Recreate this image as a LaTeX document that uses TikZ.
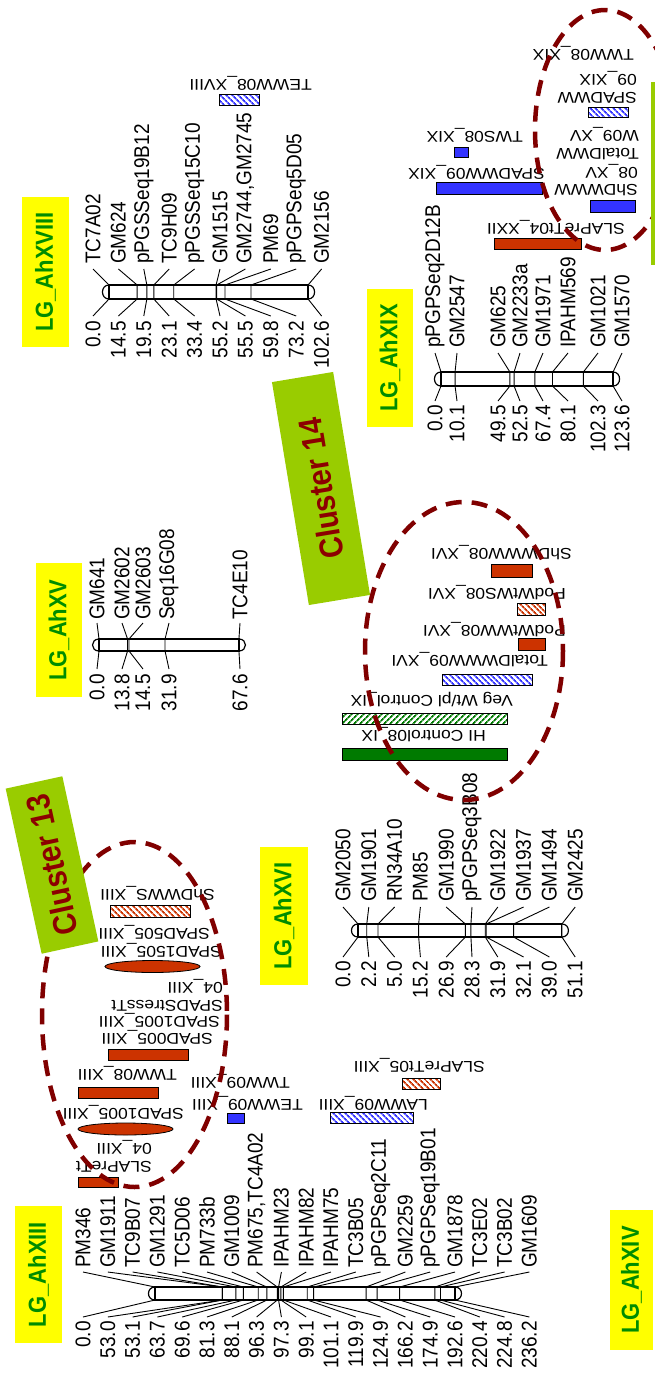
\documentclass[tikz,border=0pt]{standalone}
\usepackage{fontspec}
\setmainfont{Liberation Sans}
\newfontfamily\vfont[FakeStretch=0.893]{Liberation Sans}
\newfontfamily\hfont[FakeStretch=1.12]{Liberation Sans}
\usetikzlibrary{patterns.meta}
\definecolor{qred}{RGB}{204,51,0}
\definecolor{qblue}{RGB}{51,51,255}
\definecolor{qgreen}{RGB}{0,122,0}
\definecolor{lgyellow}{RGB}{255,255,0}
\definecolor{lggreen}{RGB}{0,140,0}
\definecolor{clgreen}{RGB}{153,204,0}
\definecolor{clred}{RGB}{140,0,0}
\definecolor{ringred}{RGB}{128,0,0}
\tikzset{
  mname/.style={rotate=90, anchor=west, inner sep=0pt, font=\vfont\fontsize{21.3}{24}\selectfont},
  mnum/.style={rotate=90, anchor=east, inner sep=0pt, font=\vfont\fontsize{21.3}{24}\selectfont},
  conn/.style={line width=0.9pt},
  chrom/.style={line width=1.2pt},
  qlab/.style={rotate=180, anchor=west, inner sep=0pt, align=left, font=\hfont\fontsize{15.6}{17.5}\selectfont},
  qbar/.style={draw=black, line width=0.8pt},
  solidred/.style={qbar, fill=qred},
  solidblue/.style={qbar, fill=qblue},
  solidgreen/.style={qbar, fill=qgreen},
  hatchred/.style={qbar, pattern={Lines[angle=-45,distance=4pt,line width=1.8pt]}, pattern color=qred},
  hatchblue/.style={qbar, pattern={Lines[angle=-45,distance=4pt,line width=1.8pt]}, pattern color=qblue},
  hatchgreen/.style={qbar, pattern={Lines[angle=45,distance=4pt,line width=1.8pt]}, pattern color=qgreen},
  ring/.style={draw=ringred, line width=4.5pt, dash pattern=on 16pt off 10pt},
  lgtitle/.style={rotate=90, fill=lgyellow, inner sep=0pt, text=lggreen, font=\vfont\bfseries\fontsize{24.6}{26}\selectfont},
  cluster/.style={fill=clgreen, inner sep=0pt, text=clred, font=\vfont\bfseries\fontsize{33}{33}\selectfont},
}
% one linkage group: bar, end caps, ticks, connectors, marker names and positions
\newcommand\drawchromosome[1]{%
  \pgfmathsetmacro\cxe{\cx+\ck*\cend}
  \draw[chrom, fill=white] (\cx,\cbt) rectangle (\cxe,\cbb);
  \draw[chrom] (\cx,\cbt) .. controls (\cx-8.7,\cbt) and (\cx-8.7,\cbb) .. (\cx,\cbb);
  \draw[chrom] (\cxe,\cbt) .. controls (\cxe+8.7,\cbt) and (\cxe+8.7,\cbb) .. (\cxe,\cbb);
  \foreach \lx/\p/\nm [count=\i] in {#1} {
    \pgfmathsetmacro\bx{\cx+\ck*\p}
    \coordinate (\cid-bt\i) at (\bx,\cbt);
    \coordinate (\cid-bb\i) at (\bx,\cbb);
    \coordinate (\cid-lt\i) at (\lx,\clt);
    \coordinate (\cid-lb\i) at (\lx,\clb);
    \node[mname] (\cid-n\i) at (\lx,\cnm) {\nm};
    \node[mnum] (\cid-v\i) at (\lx,\cnu) {\p};
    \draw[conn] (\cid-lt\i) -- (\cid-bt\i) -- (\cid-bb\i) -- (\cid-lb\i);
  }
}
\begin{document}
\begin{tikzpicture}[x=1pt,y=-1pt]
\useasboundingbox (0,0) rectangle (654,1374);

% ---------------- LG_AhXIII ----------------
\def\cid{c13}\def\cx{155}\def\ck{1.27}\def\cend{236.2}
\def\cbt{1287}\def\cbb{1300}\def\cnm{1268}\def\clt{1272}\def\clb{1317}\def\cnu{1321}
\drawchromosome{83/0.0/PM346, 107.8/53.0/GM1911, 132.6/53.1/TC9B07, 157.4/63.7/GM1291,
  182.2/69.6/TC5D06, 207/81.3/PM733b, 231.8/88.1/GM1009, 256.6/96.3/{PM675,TC4A02},
  281.4/97.3/IPAHM23, 306.2/99.1/IPAHM82, 331/101.1/IPAHM75, 355.8/119.9/TC3B05,
  380.6/124.9/pPGPSeq2C11, 405.4/166.2/GM2259, 430.2/174.9/pPGPSeq19B01,
  455/192.6/GM1878, 479.8/220.4/TC3E02, 504.6/224.8/TC3B02, 529.4/236.2/GM1609}

% ---------------- LG_AhXV ----------------
\def\cid{c15}\def\cx{99}\def\ck{2.07}\def\cend{67.6}
\def\cbt{639}\def\cbb{651}\def\cnm{620}\def\clt{623}\def\clb{669}\def\cnu{674}
\drawchromosome{97/0.0/GM641, 122/13.8/GM2602, 143/14.5/GM2603, 169/31.9/Seq16G08, 240/67.6/TC4E10}

% ---------------- LG_AhXVI ----------------
\def\cid{c16}\def\cx{358}\def\ck{3.99}\def\cend{51.1}
\def\cbt{924}\def\cbb{937}\def\cnm{902}\def\clt{907}\def\clb{957}\def\cnu{961}
\drawchromosome{343/0.0/GM2050, 368.8/2.2/GM1901, 394.6/5.0/RN34A10, 420.4/15.2/PM85,
  446.2/26.9/GM1990, 472/28.3/pPGPSeq3B08, 497.8/31.9/GM1922, 523.6/32.1/GM1937,
  549.4/39.0/GM1494, 575.2/51.1/GM2425}

% ---------------- LG_AhXVIII ----------------
\def\cid{c18}\def\cx{109}\def\ck{1.94}\def\cend{102.6}
\def\cbt{285}\def\cbb{299}\def\cnm{264}\def\clt{269}\def\clb{316}\def\cnu{321}
\drawchromosome{93/0.0/TC7A02, 118.4/14.5/GM624, 143.8/19.5/pPGSSeq19B12, 169.2/23.1/TC9H09,
  194.6/33.4/pPGSSeq15C10, 220/55.2/GM1515, 245.4/55.5/{GM2744,GM2745}, 270.8/59.8/PM69,
  296.2/73.2/pPGPSeq5D05, 321.6/102.6/GM2156}

% ---------------- LG_AhXIX ----------------
\def\cid{c19}\def\cx{441}\def\ck{1.392}\def\cend{123.6}
\def\cbt{372}\def\cbb{386}\def\cnm{348}\def\clt{353}\def\clb{401}\def\cnu{405}
\drawchromosome{435/0.0/pPGPSeq2D12B, 457/10.1/GM2547, 498/49.5/GM625, 520/52.5/GM2233a,
  543/67.4/GM1971, 568/80.1/IPAHM569, 598/102.3/GM1021, 622/123.6/GM1570}

% ---------------- QTL intervals on LG_AhXIII ----------------
\draw[solidred] (78,1177) rectangle (118,1187);
\node[qlab] (q1) at (152,1156.5) {SLAPreTt\\04\_XIII};
\draw[solidred] (125.5,1129) ellipse [x radius=47.5, y radius=6];
\node[qlab] (q2) at (184,1112) {SPAD1005\_XIII};
\draw[solidred] (78,1087) rectangle (158,1098);
\node[qlab] (q3) at (177,1073) {TWW08\_XIII};
\draw[solidred] (108,1049) rectangle (188,1060);
\node[qlab] (q4) at (213,1037) {SPAD005\_XIII};
\node[qlab] (q5) at (220,1020) {SPAD1005\_XIII};
\node[qlab] (q6) at (223,995.5) {SPADStressTt\\04\_XIII};
\draw[solidred] (152.5,966.5) ellipse [x radius=47.5, y radius=6];
\node[qlab] (q7) at (222,950) {SPAD1505\_XIII};
\node[qlab] (q8) at (210,932) {SPAD505\_XIII};
\draw[hatchred] (110,905) rectangle (190,917);
\node[qlab] (q9) at (215,894) {ShDWWS\_XIII};

\node[qlab] (q10) at (290,1081) {TWW09\_XIII};
\node[qlab] (q11) at (303,1103) {TEWW09\_XIII};
\draw[solidblue] (227,1113) rectangle (244,1123);
\node[qlab] (q12) at (428,1103) {LAWW09\_XIII};
\draw[hatchblue] (330,1112) rectangle (413,1123);
\node[qlab] (q13) at (485,1065) {SLAPreTt05\_XIII};
\draw[hatchred] (402,1078) rectangle (440,1089);

% ---------------- QTL intervals on LG_AhXVI ----------------
\node[qlab] (q14) at (572,553) {ShDWWW08\_XVI};
\draw[solidred] (491,564) rectangle (532,577);
\node[qlab] (q15) at (566,593) {PodWtWS08\_XVI};
\draw[hatchred] (517,603) rectangle (545,615);
\node[qlab] (q16) at (566,630) {PodWtWW08\_XVI};
\draw[solidred] (518,638) rectangle (545,650);
\node[qlab] (q17) at (548,660) {TotalDWWW09\_XVI};
\draw[hatchblue] (442,674) rectangle (532,685);
\node[qlab] (q18) at (513,700) {Veg Wt/pl Control\_IX};
\draw[hatchgreen] (342,713) rectangle (507,724);
\node[qlab] (q19) at (486,735) {HI Control08\_IX};
\draw[solidgreen] (342,748) rectangle (507,760);

% ---------------- QTL intervals on LG_AhXVIII and LG_AhXIX ----------------
\node[qlab] (q20) at (312,83) {TEWW08\_XVIII};
\draw[hatchblue] (219,94) rectangle (259,105);

\node[qlab] (q21) at (634,53) {TWW08\_XIX};
\node[qlab] (q22) at (637,87.5) {SPADWW\\09\_XIX};
\draw[hatchblue] (588,107) rectangle (628,117);
\node[qlab] (q23) at (639,143.5) {TotalDWW\\W09\_XV};
\node[qlab] (q24) at (638,180) {ShDWWW\\08\_XV};
\draw[solidblue] (590,200) rectangle (635,212);
\node[qlab] (q25) at (523,135) {TWS08\_XIX};
\draw[solidblue] (454,147) rectangle (468,157);
\node[qlab] (q26) at (545,172) {SPADWW09\_XIX};
\draw[solidblue] (436,182) rectangle (542,194);
\node[qlab] (q27) at (625,227) {SLAPreTt04\_XXII};
\draw[solidred] (494,238) rectangle (581,249);

% ---------------- cluster outlines ----------------
\draw[ring] (134.5,1014.5) ellipse [x radius=92.5, y radius=172.5];
\draw[ring] (464,651) ellipse [x radius=99, y radius=149];
\draw[ring] (605,130) ellipse [x radius=70, y radius=120];

% ---------------- cluster tags ----------------
\node[cluster, rotate=102.3, minimum width=169, minimum height=58] (cl13) at (52,865) {Cluster 13};
\node[cluster, rotate=99.4, minimum width=226, minimum height=62] (cl14) at (321,488.5) {Cluster 14};
\fill[clgreen] (651,82) rectangle (660,265);

% ---------------- linkage group titles ----------------
\node[lgtitle, minimum width=137, minimum height=47] (t13) at (38.5,1274.5) {LG\_AhXIII};
\node[lgtitle, minimum width=140, minimum height=43] (t14) at (631.5,1280) {LG\_AhXIV};
\node[lgtitle, minimum width=134, minimum height=46] (t15) at (59,630) {LG\_AhXV};
\node[lgtitle, minimum width=138, minimum height=48] (t16) at (284,916) {LG\_AhXVI};
\node[lgtitle, minimum width=150, minimum height=47] (t18) at (45.5,272) {LG\_AhXVIII};
\node[lgtitle, minimum width=138, minimum height=46] (t19) at (390,358) {LG\_AhXIX};
\end{tikzpicture}
\end{document}
